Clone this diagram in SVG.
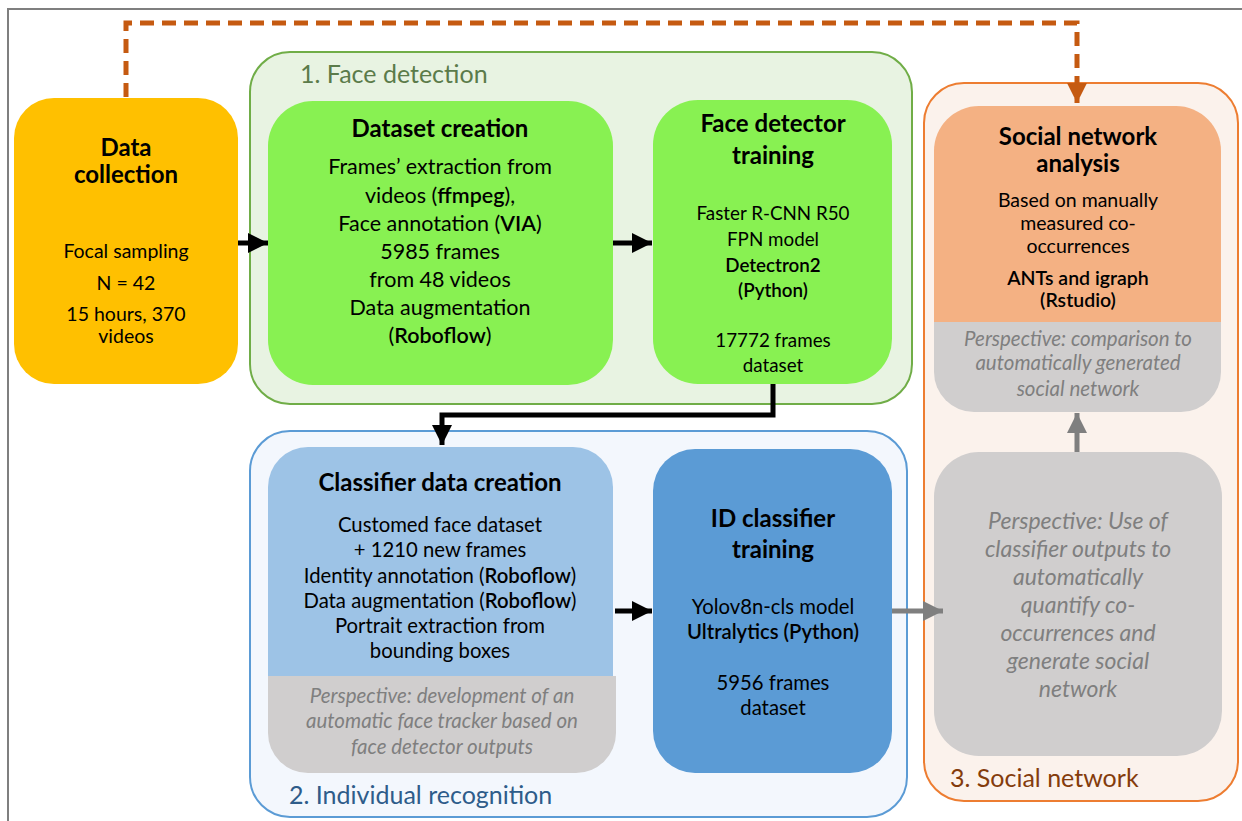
<svg xmlns="http://www.w3.org/2000/svg" width="1242" height="821" viewBox="0 0 1242 821">
<style>
text{font-family:Lato,"Open Sans","Liberation Sans",sans-serif;text-anchor:middle;fill:#000}
.t{font-weight:bold;font-size:24px}
.b{font-size:19.5px}
.d{font-size:21.5px}
.f{font-size:18.8px}
.s{font-size:20.3px}
.k{font-weight:600}
.p{font-style:italic;fill:#7f7f7f;font-size:20.5px}
.pl{font-style:italic;fill:#7f7f7f;font-size:23px}
.gl{font-size:25px;text-anchor:start}
</style>
<defs>
<marker id="ab" viewBox="0 0 10 10" refX="10" refY="5" markerWidth="4" markerHeight="4" orient="auto" markerUnits="strokeWidth"><path d="M0,0L10,5L0,10z" fill="#000"/></marker>
<marker id="ag" viewBox="0 0 10 10" refX="10" refY="5" markerWidth="4" markerHeight="4" orient="auto" markerUnits="strokeWidth"><path d="M0,0L10,5L0,10z" fill="#7f7f7f"/></marker>
<marker id="ao" viewBox="0 0 10 10" refX="10" refY="5" markerWidth="4" markerHeight="4" orient="auto" markerUnits="strokeWidth"><path d="M0,0L10,5L0,10z" fill="#c55a11"/></marker>
</defs>
<rect x="0" y="0" width="1242" height="821" fill="#fff"/>
<path d="M8,830V9H1250" fill="none" stroke="#7f7f7f" stroke-width="2"/>

<g id="group1">
<rect x="250" y="52" width="662" height="352" rx="40" fill="#e8f3e2" stroke="#70ad47" stroke-width="2"/>
<text class="gl" x="300" y="83" style="fill:#5b7b4a">1. Face detection</text>
</g>
<g id="group2">
<rect x="250" y="431" width="657" height="386" rx="40" fill="#f3f7fd" stroke="#5b9bd5" stroke-width="2"/>
<text class="gl" x="289" y="804" style="fill:#2e5c8a">2. Individual recognition</text>
</g>
<g id="group3">
<rect x="924" y="83" width="314" height="718" rx="40" fill="#fbf2ec" stroke="#ed7d31" stroke-width="2"/>
<text class="gl" x="950" y="787" style="fill:#843c0c">3. Social network</text>
</g>

<g id="data-collection">
<rect x="14" y="98" width="224" height="286" rx="40" fill="#ffc000"/>
<text class="t" x="126" y="156">Data</text>
<text class="t" x="126" y="183">collection</text>
<text class="b" x="126" y="258">Focal sampling</text>
<text class="b" x="126" y="290">N = 42</text>
<text class="b" x="126" y="321">15 hours, 370</text>
<text class="b" x="126" y="343">videos</text>
</g>

<g id="dataset-creation">
<rect x="268" y="101" width="345" height="284" rx="45" fill="#88f152"/>
<text class="t" x="440" y="137">Dataset creation</text>
<text class="d" x="440" y="174">Frames’ extraction from</text>
<text class="d" x="440" y="203">videos (<tspan class="k">ffmpeg</tspan>),</text>
<text class="d" x="440" y="231">Face annotation (<tspan class="k">VIA</tspan>)</text>
<text class="d" x="440" y="259">5985 frames</text>
<text class="d" x="440" y="287">from 48 videos</text>
<text class="d" x="440" y="315">Data augmentation</text>
<text class="d" x="440" y="343">(<tspan class="k">Roboflow</tspan>)</text>
</g>

<g id="face-detector-training">
<rect x="653" y="100" width="239" height="284" rx="45" fill="#88f152"/>
<text class="t" x="773" y="132">Face detector</text>
<text class="t" x="773" y="164">training</text>
<text class="f" x="773" y="220">Faster R-CNN R50</text>
<text class="f" x="773" y="246">FPN model</text>
<text class="f k" x="773" y="272">Detectron2</text>
<text class="f k" x="773" y="297">(Python)</text>
<text class="f" x="773" y="347">17772 frames</text>
<text class="f" x="773" y="372">dataset</text>
</g>

<g id="classifier-data-creation">
<path d="M308,447H573A40,40 0 0 1 613,487V676H268V487A40,40 0 0 1 308,447Z" fill="#9dc3e6"/>
<path d="M268,676H616V733A40,40 0 0 1 576,773H308A40,40 0 0 1 268,733Z" fill="#d0cece"/>
<text class="t" x="440" y="491">Classifier data creation</text>
<text class="s" x="440" y="532">Customed face dataset</text>
<text class="s" x="440" y="557">+ 1210 new frames</text>
<text class="s" x="440" y="583">Identity annotation (<tspan class="k">Roboflow</tspan>)</text>
<text class="s" x="440" y="608">Data augmentation (<tspan class="k">Roboflow</tspan>)</text>
<text class="s" x="440" y="633">Portrait extraction from</text>
<text class="s" x="440" y="658">bounding boxes</text>
<text class="p" x="442" y="703">Perspective: development of an</text>
<text class="p" x="442" y="728">automatic face tracker based on</text>
<text class="p" x="442" y="754">face detector outputs</text>
</g>

<g id="id-classifier-training">
<rect x="653" y="449" width="239" height="324" rx="42" fill="#5b9bd5"/>
<text class="t" x="773" y="527">ID classifier</text>
<text class="t" x="773" y="558">training</text>
<text class="s" x="773" y="614">Yolov8n-cls model</text>
<text class="s" x="773" y="639"><tspan class="k">Ultralytics (Python)</tspan></text>
<text class="s" x="773" y="690">5956 frames</text>
<text class="s" x="773" y="715">dataset</text>
</g>

<g id="social-network-analysis">
<path d="M979,106H1176A45,45 0 0 1 1221,151V322H934V151A45,45 0 0 1 979,106Z" fill="#f4b183"/>
<path d="M934,322H1221V372A40,40 0 0 1 1181,412H974A40,40 0 0 1 934,372Z" fill="#d0cece"/>
<text class="t" x="1078" y="145">Social network</text>
<text class="t" x="1078" y="172">analysis</text>
<text class="b" x="1078" y="207">Based on manually</text>
<text class="b" x="1078" y="230">measured co-</text>
<text class="b" x="1078" y="253">occurrences</text>
<text class="b k" x="1078" y="285">ANTs and igraph</text>
<text class="b k" x="1078" y="307">(Rstudio)</text>
<text class="p" x="1078" y="346">Perspective: comparison to</text>
<text class="p" x="1078" y="370">automatically generated</text>
<text class="p" x="1078" y="396">social network</text>
</g>

<g id="perspective-social">
<rect x="934" y="452" width="288" height="304" rx="45" fill="#d0cece"/>
<text class="pl" x="1078" y="529">Perspective: Use of</text>
<text class="pl" x="1078" y="557">classifier outputs to</text>
<text class="pl" x="1078" y="585">automatically</text>
<text class="pl" x="1078" y="613">quantify co-</text>
<text class="pl" x="1078" y="641">occurrences and</text>
<text class="pl" x="1078" y="669">generate social</text>
<text class="pl" x="1078" y="697">network</text>
</g>

<g id="connectors" fill="none">
<path d="M126,97V23H1077V103" stroke="#c55a11" stroke-width="5" stroke-dasharray="14 8" marker-end="url(#ao)"/>
<path d="M238,243H268" stroke="#000" stroke-width="5" marker-end="url(#ab)"/>
<path d="M613,243H652" stroke="#000" stroke-width="5" marker-end="url(#ab)"/>
<path d="M773,384V415H442V445" stroke="#000" stroke-width="5" marker-end="url(#ab)"/>
<path d="M615,611H652" stroke="#000" stroke-width="5" marker-end="url(#ab)"/>
<path d="M892,611H943" stroke="#7f7f7f" stroke-width="5" marker-end="url(#ag)"/>
<path d="M1077,452V413" stroke="#7f7f7f" stroke-width="5" marker-end="url(#ag)"/>
</g>
</svg>
